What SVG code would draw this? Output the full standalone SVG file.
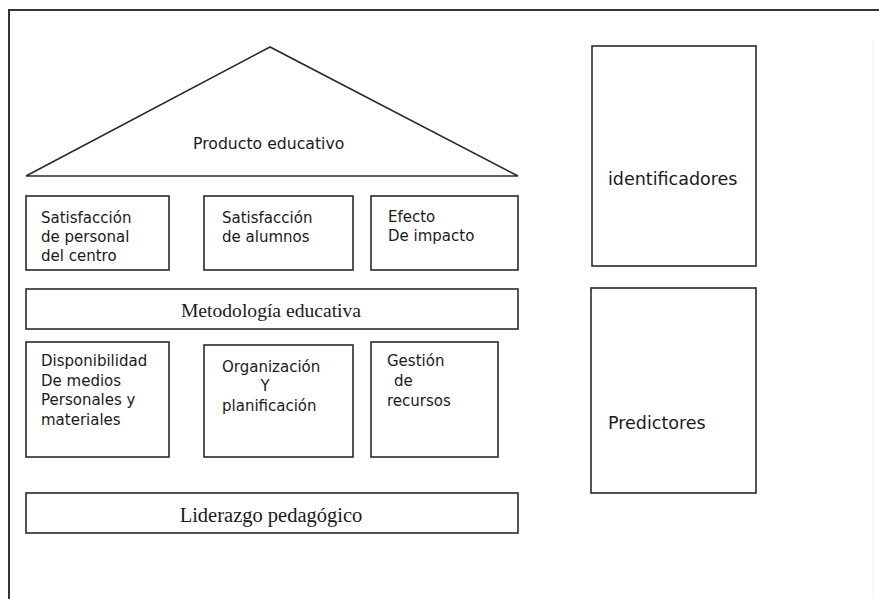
<svg xmlns="http://www.w3.org/2000/svg" width="879" height="599" viewBox="0 0 879 599">
<style>
.box{fill:none;stroke:#2a2a2a;stroke-width:1.6}
.frame{fill:none;stroke:#333;stroke-width:2}
.s{font-family:"DejaVu Sans",Verdana,sans-serif;font-size:15px;fill:#1a1a1a}
.l{font-family:"DejaVu Sans",Verdana,sans-serif;font-size:17.5px;fill:#1a1a1a}
.r{font-family:"Liberation Serif","Times New Roman",serif;font-size:20px;fill:#1a1a1a}
</style>
<rect width="879" height="599" fill="#fff"/>
<g id="frame">
<path class="frame" d="M9,599 V10 H879"/>
<line x1="873" y1="40" x2="873" y2="599" stroke="#f0f0f0" stroke-width="1"/>
</g>
<g id="producto">
<polygon class="box" points="270,47 26,176 518,176"/>
<text class="s" x="193" y="149" style="font-size:15.7px">Producto educativo</text>
</g>
<g id="sat-personal">
<rect class="box" x="26" y="196" width="143" height="74"/>
<text class="s" x="41" y="223">Satisfacción</text>
<text class="s" x="41" y="242">de personal</text>
<text class="s" x="41" y="261">del centro</text>
</g>
<g id="sat-alumnos">
<rect class="box" x="204" y="196" width="149" height="74"/>
<text class="s" x="222" y="223">Satisfacción</text>
<text class="s" x="222" y="242">de alumnos</text>
</g>
<g id="efecto">
<rect class="box" x="371" y="196" width="147" height="74"/>
<text class="s" x="388" y="222">Efecto</text>
<text class="s" x="388" y="241">De impacto</text>
</g>
<g id="metodologia">
<rect class="box" x="26" y="289" width="492" height="40"/>
<text class="r" x="271" y="317" text-anchor="middle" style="font-size:19.6px">Metodología educativa</text>
</g>
<g id="disponibilidad">
<rect class="box" x="26" y="342" width="143" height="115"/>
<text class="s" x="41" y="366">Disponibilidad</text>
<text class="s" x="41" y="386">De medios</text>
<text class="s" x="41" y="405">Personales y</text>
<text class="s" x="41" y="425">materiales</text>
</g>
<g id="organizacion">
<rect class="box" x="204" y="345" width="149" height="112"/>
<text class="s" x="222" y="372">Organización</text>
<text class="s" x="265" y="391" text-anchor="middle">Y</text>
<text class="s" x="222" y="411">planificación</text>
</g>
<g id="gestion">
<rect class="box" x="371" y="342" width="127" height="115"/>
<text class="s" x="387" y="366">Gestión</text>
<text class="s" x="394" y="386">de</text>
<text class="s" x="387" y="406">recursos</text>
</g>
<g id="liderazgo">
<rect class="box" x="26" y="493" width="492" height="40"/>
<text class="r" x="271" y="522" text-anchor="middle" style="font-size:20.5px">Liderazgo pedagógico</text>
</g>
<g id="identificadores">
<rect class="box" x="592" y="46" width="164" height="220"/>
<text class="l" x="608" y="185">identificadores</text>
</g>
<g id="predictores">
<rect class="box" x="591" y="288" width="165" height="205"/>
<text class="l" x="608" y="429">Predictores</text>
</g>
<g id="connectors"></g>
</svg>
